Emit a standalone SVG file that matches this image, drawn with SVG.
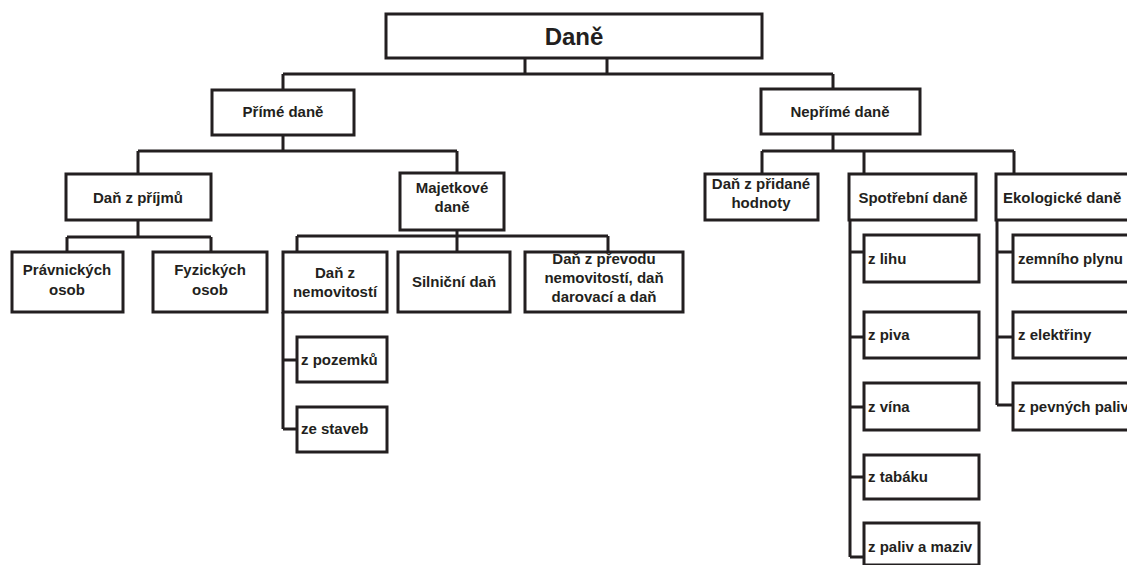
<svg xmlns="http://www.w3.org/2000/svg" width="1127" height="565" viewBox="0 0 1127 565">
<style>
.b{fill:#fff;stroke:#231f20;stroke-width:3}
.c{fill:none;stroke:#231f20;stroke-width:3}
.t{font-family:"Liberation Sans",Arial,sans-serif;font-weight:bold;font-size:15px;fill:#231f20;text-anchor:middle}
.l{text-anchor:start}
</style>
<rect width="1127" height="565" fill="#fff"/>
<g id="connectors" class="c">
<path d="M525,58V74M607,58V74M283,74H833M283,74V90M833,74V89"/>
<path d="M283,135V151M138,151H457M138,151V174M457,151V173"/>
<path d="M138,220V237M67,237H211M67,237V252M211,237V252"/>
<path d="M457,230V236M297,236H608M297,236V252M457,236V252M608,236V252"/>
<path d="M283,312V429M283,360H297M283,429H297"/>
<path d="M833,134V151M762,151H1014M762,151V174M864,151V174M1014,151V174"/>
<path d="M850,220V557M850,252H864M850,337H864M850,407H864M850,477H864M850,557H864"/>
<path d="M997,220V405M997,252H1013M997,337H1013M997,405H1013"/>
</g>
<g id="dane"><rect class="b" x="386" y="14" width="376" height="44"/><text class="t" x="574" y="45" style="font-size:24px">Daně</text></g>
<g id="prime"><rect class="b" x="212" y="90" width="142" height="45"/><text class="t" x="283" y="117">Přímé daně</text></g>
<g id="neprime"><rect class="b" x="761" y="89" width="159" height="45"/><text class="t" x="840" y="117">Nepřímé daně</text></g>
<g id="prijmu"><rect class="b" x="66" y="174" width="145" height="46"/><text class="t" x="138" y="203">Daň z příjmů</text></g>
<g id="majetkove"><rect class="b" x="400" y="173" width="104" height="57"/><text class="t" x="452" y="193">Majetkové</text><text class="t" x="452" y="212">daně</text></g>
<g id="pravnickych"><rect class="b" x="12" y="252" width="111" height="60"/><text class="t" x="67" y="275">Právnických</text><text class="t" x="67" y="295">osob</text></g>
<g id="fyzickych"><rect class="b" x="153" y="252" width="114" height="60"/><text class="t" x="210" y="275">Fyzických</text><text class="t" x="210" y="295">osob</text></g>
<g id="nemovitosti"><rect class="b" x="283" y="252" width="104" height="60"/><text class="t" x="335" y="278">Daň z</text><text class="t" x="335" y="297">nemovitostí</text></g>
<g id="silnicni"><rect class="b" x="398" y="252" width="112" height="60"/><text class="t" x="454" y="287">Silniční daň</text></g>
<g id="prevod"><rect class="b" x="525" y="252" width="158" height="60"/><text class="t" x="604" y="264">Daň z převodu</text><text class="t" x="604" y="283">nemovitostí, daň</text><text class="t" x="604" y="302">darovací a daň</text></g>
<g id="pozemku"><rect class="b" x="297" y="337" width="90" height="45"/><text class="t l" x="301" y="365">z pozemků</text></g>
<g id="staveb"><rect class="b" x="297" y="407" width="90" height="45"/><text class="t l" x="301" y="434">ze staveb</text></g>
<g id="dph"><rect class="b" x="705" y="174" width="113" height="46"/><text class="t" x="761" y="189">Daň z přidané</text><text class="t" x="761" y="208">hodnoty</text></g>
<g id="spotrebni"><rect class="b" x="849" y="174" width="127" height="46"/><text class="t" x="913" y="203">Spotřební daně</text></g>
<g id="ekologicke"><rect class="b" x="996" y="174" width="150" height="46"/><text class="t l" x="1003" y="203">Ekologické daně</text></g>
<g id="lihu"><rect class="b" x="864" y="235" width="115" height="47"/><text class="t l" x="868" y="264">z lihu</text></g>
<g id="piva"><rect class="b" x="864" y="312" width="115" height="46"/><text class="t l" x="868" y="340">z piva</text></g>
<g id="vina"><rect class="b" x="864" y="383" width="115" height="47"/><text class="t l" x="868" y="412">z vína</text></g>
<g id="tabaku"><rect class="b" x="864" y="455" width="115" height="44"/><text class="t l" x="868" y="482">z tabáku</text></g>
<g id="paliv"><rect class="b" x="864" y="523" width="115" height="42"/><text class="t l" x="868" y="552">z paliv a maziv</text></g>
<g id="plynu"><rect class="b" x="1013" y="235" width="130" height="47"/><text class="t l" x="1018" y="264">zemního plynu</text></g>
<g id="elektriny"><rect class="b" x="1013" y="312" width="130" height="46"/><text class="t l" x="1018" y="340">z elektřiny</text></g>
<g id="pevnych"><rect class="b" x="1013" y="383" width="130" height="47"/><text class="t l" x="1018" y="412">z pevných paliv</text></g>
</svg>
